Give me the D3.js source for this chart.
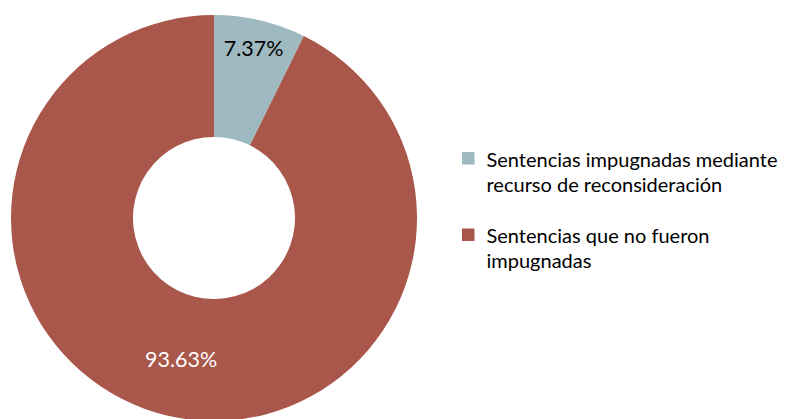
<!DOCTYPE html>
<html><head><meta charset="utf-8">
<script src="https://cdn.jsdelivr.net/npm/d3@7"></script>
<style>body{margin:0;background:#fff;} svg{display:block;}</style>
</head><body>
<svg id="chart" width="785" height="419"></svg>
<script>
const categories = ["Sentencias impugnadas mediante recurso de reconsideración", "Sentencias que no fueron impugnadas"];
const legendLines = [["Sentencias impugnadas mediante", "recurso de reconsideración"], ["Sentencias que no fueron", "impugnadas"]];
const values = [7.37, 93.63];
const valueLabels = ["7.37%", "93.63%"];
const colors = ["#9EB9BF", "#A9574B"];
const labelColors = ["#000000", "#ffffff"];

const svg = d3.select("#chart");
const cx = 214, cy = 218, rOuter = 203, rInner = 81;
const labelRadius = [174, 145];
const pie = d3.pie().sort(null).value(d => d)(values);
const arc = d3.arc().innerRadius(rInner).outerRadius(rOuter);
const g = svg.append("g").attr("transform", `translate(${cx},${cy})`);
g.selectAll("path").data(pie).enter().append("path")
  .attr("d", arc).attr("fill", (d, i) => colors[i]);
g.selectAll("text").data(pie).enter().append("text")
  .attr("transform", (d, i) => {
    const a = (d.startAngle + d.endAngle) / 2;
    return `translate(${Math.sin(a) * labelRadius[i]},${-Math.cos(a) * labelRadius[i]})`;
  })
  .attr("text-anchor", "middle").attr("dy", "0.36em")
  .attr("font-family", "Lato, 'Open Sans', sans-serif").attr("font-size", 21.5)
  .attr("fill", (d, i) => labelColors[i])
  .text((d, i) => valueLabels[i]);

const legend = svg.append("g");
const ly = [152, 228.5];
categories.forEach((c, i) => {
  const lg = legend.append("g").attr("transform", `translate(462,${ly[i]})`);
  lg.append("rect").attr("width", 12.5).attr("height", 12.5).attr("fill", colors[i]);
  legendLines[i].forEach((line, j) => {
    lg.append("text").attr("x", 24.5).attr("y", 14.7 + j * 25)
      .attr("font-family", "Lato, 'Open Sans', sans-serif").attr("font-size", 20)
      .attr("fill", "#000").text(line);
  });
});
</script>
</body></html>
